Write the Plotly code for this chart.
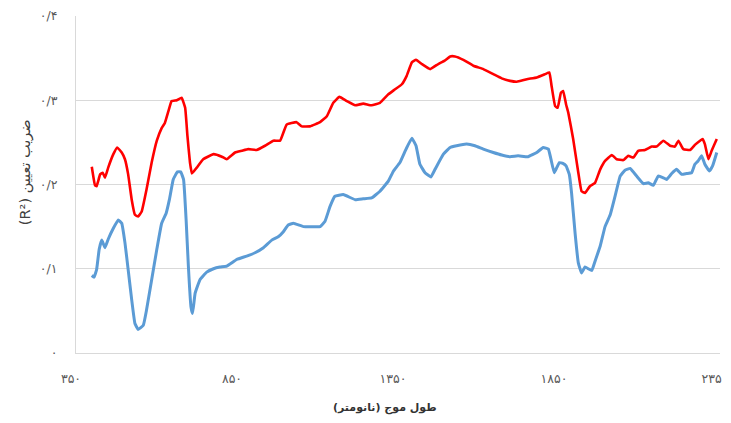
import plotly.graph_objects as go

# wavelength (nm) and R2 values, red series
red_x = [399, 409, 414, 425, 433, 440, 450, 466, 478, 492, 502, 512, 523, 533, 543, 554, 569,
         585, 601, 616, 626, 637, 647, 663, 678, 689, 696, 704, 710, 725, 745, 777, 803, 818,
         844, 865, 885, 911, 937, 963, 984, 1004, 1035, 1051, 1077, 1108, 1129, 1149, 1168,
         1191, 1217, 1242, 1268, 1294, 1320, 1341, 1362, 1377, 1393, 1406, 1424, 1450, 1475,
         1495, 1512, 1527, 1553, 1584, 1615, 1646, 1672, 1698, 1719, 1750, 1781, 1807, 1820,
         1827, 1838, 1846, 1856, 1863, 1872, 1879, 1894, 1910, 1920, 1931, 1946, 1962, 1978,
         1993, 2014, 2029, 2050, 2065, 2081, 2096, 2117, 2138, 2153, 2174, 2195, 2210, 2221,
         2236, 2257, 2272, 2288, 2296, 2303, 2314, 2324, 2340]
red_y = [0.221, 0.199, 0.198, 0.212, 0.214, 0.208, 0.220, 0.236, 0.244, 0.238, 0.230, 0.212,
         0.182, 0.164, 0.162, 0.168, 0.194, 0.226, 0.252, 0.267, 0.273, 0.287, 0.299, 0.300,
         0.303, 0.291, 0.258, 0.226, 0.213, 0.220, 0.230, 0.236, 0.233, 0.230, 0.238, 0.240,
         0.242, 0.241, 0.246, 0.252, 0.252, 0.271, 0.274, 0.269, 0.269, 0.274, 0.281, 0.297,
         0.304, 0.299, 0.294, 0.296, 0.294, 0.297, 0.307, 0.313, 0.319, 0.329, 0.345, 0.348,
         0.343, 0.337, 0.343, 0.347, 0.352, 0.352, 0.348, 0.341, 0.337, 0.331, 0.326, 0.323,
         0.322, 0.325, 0.327, 0.331, 0.333, 0.317, 0.293, 0.291, 0.309, 0.311, 0.295, 0.285,
         0.254, 0.214, 0.192, 0.190, 0.198, 0.202, 0.218, 0.228, 0.235, 0.230, 0.229, 0.234,
         0.232, 0.240, 0.241, 0.245, 0.245, 0.252, 0.246, 0.245, 0.252, 0.242, 0.241, 0.247,
         0.252, 0.254, 0.248, 0.230, 0.240, 0.254]

# blue series
blue_x = [399, 406, 414, 422, 430, 440, 450, 466, 481, 492, 502, 512, 523, 533, 543, 559, 569,
          585, 601, 616, 630, 640, 652, 665, 675, 684, 692, 699, 707, 712, 720, 735, 756, 777,
          797, 818, 849, 880, 906, 932, 958, 978, 994, 1009, 1025, 1056, 1077, 1108, 1123,
          1139, 1154, 1180, 1217, 1242, 1268, 1294, 1320, 1336, 1356, 1375, 1393, 1406, 1418,
          1434, 1452, 1465, 1491, 1512, 1532, 1563, 1589, 1615, 1646, 1672, 1698, 1723, 1754,
          1781, 1801, 1817, 1825, 1835, 1843, 1851, 1862, 1872, 1882, 1889, 1900, 1910, 1920,
          1931, 1941, 1952, 1962, 1978, 1993, 2009, 2024, 2040, 2055, 2071, 2091, 2112, 2127,
          2143, 2158, 2174, 2184, 2200, 2215, 2231, 2246, 2262, 2272, 2282, 2293, 2303, 2317,
          2327, 2340]
blue_y = [0.092, 0.090, 0.099, 0.123, 0.134, 0.125, 0.135, 0.148, 0.158, 0.154, 0.131, 0.099,
          0.063, 0.035, 0.028, 0.033, 0.051, 0.087, 0.123, 0.154, 0.166, 0.182, 0.206, 0.215,
          0.215, 0.206, 0.158, 0.103, 0.055, 0.047, 0.071, 0.087, 0.096, 0.100, 0.102, 0.103,
          0.111, 0.115, 0.119, 0.125, 0.134, 0.138, 0.144, 0.152, 0.154, 0.150, 0.150, 0.150,
          0.156, 0.174, 0.186, 0.188, 0.182, 0.183, 0.184, 0.192, 0.204, 0.216, 0.226, 0.242,
          0.255, 0.246, 0.224, 0.214, 0.209, 0.218, 0.236, 0.244, 0.246, 0.248, 0.246, 0.242,
          0.238, 0.235, 0.233, 0.234, 0.233, 0.238, 0.244, 0.242, 0.230, 0.214, 0.220, 0.226,
          0.225, 0.222, 0.212, 0.190, 0.142, 0.107, 0.095, 0.102, 0.100, 0.098, 0.109, 0.127,
          0.150, 0.164, 0.186, 0.210, 0.217, 0.219, 0.210, 0.201, 0.202, 0.199, 0.210, 0.208,
          0.206, 0.213, 0.218, 0.212, 0.213, 0.214, 0.224, 0.228, 0.234, 0.224, 0.216, 0.222,
          0.238]

x_tickvals = [350, 850, 1350, 1850, 2350]
x_ticktext = ["۳۵۰", "۸۵۰", "۱۳۵۰", "۱۸۵۰", "۲۳۵۰"]
y_tickvals = [0, 0.1, 0.2, 0.3, 0.4]
y_ticktext = ["۰", "۰/۱", "۰/۲", "۰/۳", "۰/۴"]
x_title = "طول موج (نانومتر)"
y_title = "(R²) ضریب تعیین"

fig = go.Figure()
fig.add_trace(go.Scatter(x=red_x, y=red_y, mode="lines",
                         line=dict(color="#FF0000", width=2.6, shape="spline", smoothing=0.3),
                         showlegend=False))
fig.add_trace(go.Scatter(x=blue_x, y=blue_y, mode="lines",
                         line=dict(color="#5B9BD5", width=3, shape="spline", smoothing=0.3),
                         showlegend=False))

fig.add_annotation(text="<b>" + x_title + "</b>", xref="paper", yref="paper",
                   x=0.48, y=-0.163, xanchor="center", yanchor="middle", showarrow=False,
                   font=dict(size=11, color="#333333", family="DejaVu Sans"))
fig.add_annotation(text=y_title, xref="paper", yref="paper", textangle=-90,
                   x=-0.079, y=0.537, xanchor="center", yanchor="middle", showarrow=False,
                   font=dict(size=14.5, color="#404040", family="DejaVu Sans"))

fig.update_layout(
    width=723, height=415,
    margin=dict(l=68, r=11, t=8, b=70),
    paper_bgcolor="white", plot_bgcolor="white",
    font=dict(family="DejaVu Sans", color="#595959", size=12),
    xaxis=dict(range=[350, 2350], tickvals=x_tickvals, ticktext=x_ticktext,
               showgrid=False, zeroline=False, showline=True, linecolor="#d9d9d9",
               linewidth=1, ticks="", ticklabelstandoff=14, ticklabelshift=-5,
               automargin=False, ticklabeloverflow="allow", tickfont=dict(size=12.5)),
    yaxis=dict(range=[0, 0.4], tickvals=y_tickvals, ticktext=y_ticktext,
               showgrid=True, gridcolor="#d9d9d9", gridwidth=1, zeroline=False,
               showline=True, linecolor="#d9d9d9", linewidth=1, ticks="",
               ticklabelstandoff=15, automargin=False, tickfont=dict(size=12.5)),
)

fig.write_html("out.html")
